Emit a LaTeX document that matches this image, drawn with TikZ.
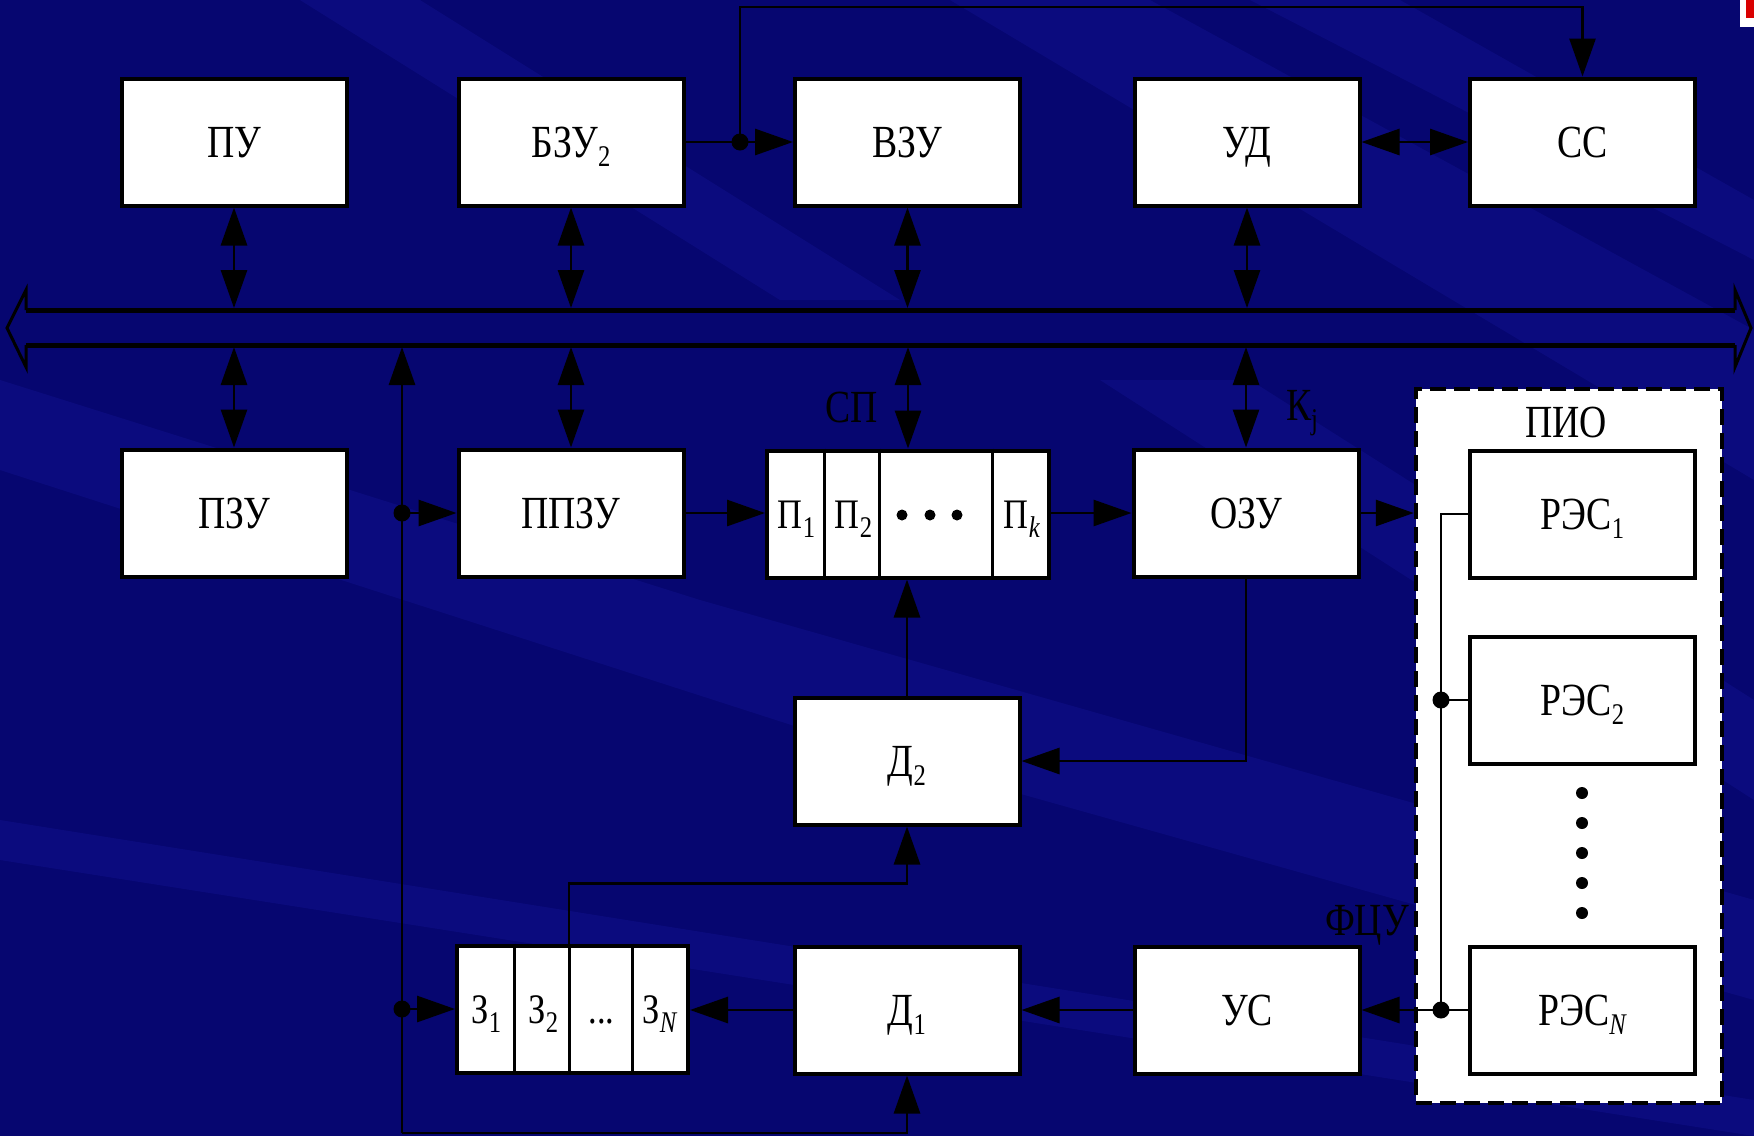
\documentclass[tikz,border=0pt]{standalone}
\usepackage{fontspec}
\setmainfont{Liberation Serif}[FakeStretch=0.82]
\usetikzlibrary{arrows.meta,calc}
\definecolor{bgblue}{RGB}{6,6,112}
\definecolor{streak}{RGB}{30,30,180}
\newcommand{\lsub}[1]{\raisebox{-9pt}{\fontsize{30}{30}\selectfont #1}}
\begin{document}
\begin{tikzpicture}[x=1pt,y=-1pt,
  box/.style={draw=black, line width=4pt, fill=white, minimum width=225pt,
    minimum height=127pt, inner sep=0pt, text height=31pt, text depth=0pt,
    font=\fontsize{46}{50}\selectfont},
  lbl/.style={inner sep=0pt, text height=31pt, text depth=0pt, text=black,
    font=\fontsize{46}{50}\selectfont},
  cell/.style={inner sep=0pt, text height=28pt, text depth=0pt, text=black,
    font=\fontsize{42}{46}\selectfont},
  conn/.style={line width=2.8pt, draw=black},
  arr/.style={conn, -{Triangle[length=38pt,width=26pt]}},
  dbl/.style={conn, {Triangle[length=38pt,width=26pt]}-{Triangle[length=38pt,width=26pt]}},
  divline/.style={line width=3pt, draw=black}
]
% background
\fill[bgblue] (0,0) rectangle (1754,1136);
\useasboundingbox (0,0) rectangle (1754,1136);
\begin{scope}[fill=streak, fill opacity=0.22]
  \fill (950,0) -- (1150,0) -- (1754,330) -- (1754,480) -- cycle;
  \fill (1250,0) -- (1400,0) -- (1754,200) -- (1754,260) -- cycle;
  \fill (0,380) -- (0,470) -- (900,760) -- (1754,1000) -- (1754,900) -- (700,600) -- cycle;
  \fill (0,820) -- (0,860) -- (1754,1136) -- (1754,1100) -- cycle;
  \fill (300,0) -- (420,0) -- (900,300) -- (780,300) -- cycle;
  \fill (1100,380) -- (1250,380) -- (1754,700) -- (1754,800) -- cycle;
\end{scope}
\fill[white] (1740,0) rectangle (1754,27);
\fill[red!85!black] (1746,0) rectangle (1754,18);

% bus
\draw[line width=5pt] (26,310) -- (1735,310) (26,345) -- (1735,345);
\draw[line width=3pt, line join=miter] (26,310) -- (26,290) -- (7,328) -- (26,367) -- (26,345);
\draw[line width=3pt, line join=miter] (1735,310) -- (1735,290) -- (1751,328) -- (1735,367) -- (1735,345);
\coordinate (bt) at (0,308);
\coordinate (bb) at (0,347);

% top row
\node[box] (pu)  at (234,142) {ПУ};
\node[box] (bzu) at (571,142) {БЗУ\lsub{2}};
\node[box] (vzu) at (907.5,142) {ВЗУ};
\node[box] (ud)  at (1247,142) {УД};
\node[box] (cc)  at (1582.5,142) {СС};

% middle row
\node[box] (pzu)  at (234,513) {ПЗУ};
\node[box] (ppzu) at (571,513) {ППЗУ};
\node[box, minimum width=282pt] (preg) at (908,514) {};
\node[box] (ozu)  at (1246,513) {ОЗУ};

% register P cells
\draw[divline] ([xshift=59pt]preg.north west) -- ([xshift=59pt]preg.south west);
\draw[divline] ([xshift=114pt]preg.north west) -- ([xshift=114pt]preg.south west);
\draw[divline] ([xshift=227pt]preg.north west) -- ([xshift=227pt]preg.south west);
\node[cell] (p1) at (796.5,514) {П\lsub{1}};
\node[cell] (p2) at (853.5,514) {П\lsub{2}};
\fill (902,515) circle (5.5pt) (930,515) circle (5.5pt) (957,515) circle (5.5pt);
\node[cell] (pk) at (1022,514) {П\lsub{\textit{k}}};

% D2
\node[box] (d2) at (907,761) {Д\lsub{2}};

% bottom row
\node[box, minimum width=231pt] (zreg) at (572.5,1009) {};
\draw[divline] ([xshift=59pt]zreg.north west) -- ([xshift=59pt]zreg.south west);
\draw[divline] ([xshift=114pt]zreg.north west) -- ([xshift=114pt]zreg.south west);
\draw[divline] ([xshift=177pt]zreg.north west) -- ([xshift=177pt]zreg.south west);
\node[cell] (z1) at (486.5,1009) {З\lsub{1}};
\node[cell] (z2) at (543.5,1009) {З\lsub{2}};
\node[cell] (zd) at (601.5,1009) {...};
\node[cell] (zn) at (660,1009) {З\lsub{\textit{N}}};
\node[box] (d1) at (907,1010) {Д\lsub{1}};
\node[box] (us) at (1247,1010) {УС};

% PIO group
\node[draw=black, line width=4.5pt, dash pattern=on 16pt off 8pt, fill=white,
  minimum width=306pt, minimum height=714pt, inner sep=0pt] (pio) at (1569,746) {};
\node[lbl] (piol) at (1566,422) {ПИО};
\node[box] (res1) at (1582.5,514) {РЭС\lsub{1}};
\node[box] (res2) at (1582.5,700) {РЭС\lsub{2}};
\node[box] (resN) at (1582.5,1010) {РЭС\lsub{\textit{N}}};
\foreach \yy in {793,823,853,883,913} \fill (1582,\yy) circle (6pt);

% labels
\node[lbl] (sp) at (852,407) {СП};
\node[lbl] (kj) at (1302,405) {К\lsub{j}};
\node[lbl] (fcu) at (1367,920) {ФЦУ};

% connectors: top
\coordinate (j1) at (740,142);
\draw[conn] (bzu.east) -- (j1);
\draw[arr] (j1) -- (vzu.west);
\draw[arr] (j1) -- ++(0,-135) -| (cc.north);
\fill (j1) circle (8.5pt);
\draw[dbl] (ud.east) -- (cc.west);

% top row to bus
\foreach \n in {pu,bzu,vzu,ud} \draw[dbl] (\n.south) -- (\n.south |- bt);
% bus to middle row
\foreach \n in {pzu,ppzu,preg,ozu} \draw[dbl] (\n.north |- bb) -- (\n.north);

% middle row chain
\draw[arr] (ppzu.east) -- (ppzu.east -| preg.west);
\draw[arr] (preg.east |- ozu.west) -- (ozu.west);
\draw[arr] (ozu.east) -- (ozu.east -| pio.west);
\draw[arr] (ozu.south) |- (d2.east);
\draw[arr] (d2.north) -- (d2.north |- preg.south);

% left feedback line
\coordinate (lb) at (402,1133);
\coordinate (jA) at (402,513);
\coordinate (jB) at (402,1009);
\draw[arr] (lb) -- (lb |- bb);
\draw[arr] (lb) -| (d1.south);
\draw[arr] (jA) -- (jA -| ppzu.west);
\draw[arr] (jB) -- (zreg.west);
\fill (jA) circle (8.5pt);
\fill (jB) circle (8.5pt);

% bottom chain
\draw[arr] (us.west) -- (d1.east);
\draw[arr] (d1.west) -- (d1.west -| zreg.east);
\draw[arr] ([xshift=114pt]zreg.north west) -- ++(0,-60) -| (d2.south);

% PIO internal bus
\coordinate (jr2) at (1441,700);
\coordinate (jrN) at (1441,1010);
\draw[conn] (res1.west) -| (jrN);
\draw[conn] (jr2) -- (res2.west);
\draw[conn] (resN.west) -- (jrN);
\draw[arr] (jrN) -- (us.east);
\fill (jr2) circle (8.5pt);
\fill (jrN) circle (8.5pt);
\end{tikzpicture}
\end{document}
